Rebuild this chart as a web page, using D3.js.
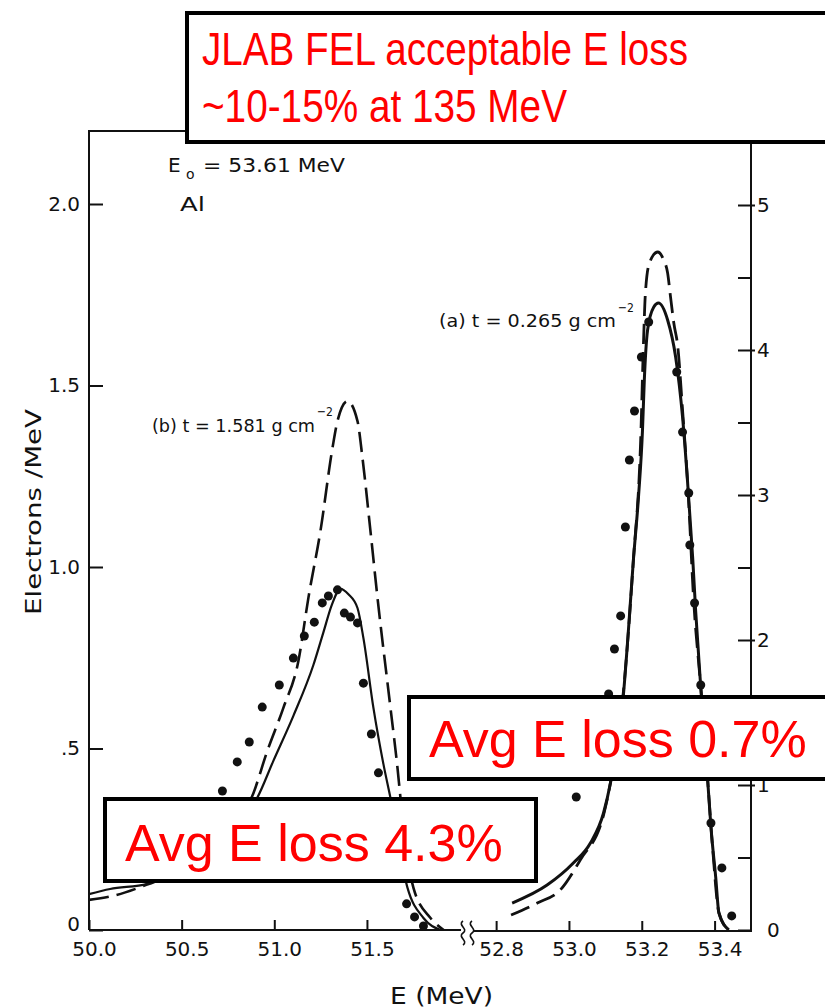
<!DOCTYPE html>
<html>
<head>
<meta charset="utf-8">
<script src="https://cdn.jsdelivr.net/npm/d3@7"></script>
<style>
  body { margin: 0; background: #fff; }
  svg { display: block; }
</style>
</head>
<body>
<div id="chart"></div>
<script>
// Tick values
var xTicksLeft = [50.0, 50.5, 51.0, 51.5];
var xTicksRight = [52.8, 53.0, 53.2, 53.4];
var yTicksLeft = [0, 0.5, 1.0, 1.5, 2.0];
var yTicksRight = [0, 0.5, 1, 1.5, 2, 2.5, 3, 3.5, 4, 4.5, 5];

// (b) t = 1.581 g cm-2  -> left axis, [E (MeV), electrons/MeV]
var dotsB = [
  [50.72, 0.383], [50.80, 0.463], [50.865, 0.518], [50.935, 0.614], [51.027, 0.675],
  [51.103, 0.749], [51.162, 0.810], [51.216, 0.848], [51.259, 0.901], [51.292, 0.920],
  [51.341, 0.937], [51.378, 0.873], [51.411, 0.862], [51.449, 0.846], [51.481, 0.680],
  [51.524, 0.540], [51.562, 0.433], [51.714, 0.072], [51.757, 0.036], [51.805, 0.011]
];
var solidB = [
  [50.00, 0.099], [50.114, 0.113], [50.314, 0.127], [50.55, 0.18], [50.75, 0.27],
  [50.908, 0.364], [50.995, 0.466], [51.103, 0.590], [51.211, 0.730], [51.265, 0.820],
  [51.31, 0.895], [51.357, 0.940], [51.40, 0.925], [51.449, 0.887], [51.481, 0.804],
  [51.535, 0.612], [51.589, 0.457], [51.627, 0.364], [51.719, 0.116], [51.805, 0.033],
  [51.897, 0.0]
];
var dashedB = [
  [50.00, 0.083], [50.13, 0.094], [50.276, 0.118], [50.5, 0.17], [50.7, 0.26],
  [50.881, 0.369], [50.962, 0.493], [51.049, 0.612], [51.130, 0.741], [51.184, 0.915],
  [51.249, 1.099], [51.314, 1.328], [51.341, 1.402], [51.395, 1.457], [51.449, 1.402],
  [51.476, 1.300], [51.519, 1.099], [51.557, 0.915], [51.627, 0.612], [51.665, 0.446],
  [51.681, 0.364], [51.751, 0.116], [51.843, 0.033], [51.914, 0.0]
];

// (a) t = 0.265 g cm-2  -> right axis
var dotsA = [
  [53.020, 0.917], [53.109, 1.628], [53.125, 1.938], [53.142, 2.166], [53.155, 2.779],
  [53.166, 3.241], [53.180, 3.579], [53.199, 3.952], [53.219, 4.193], [53.296, 3.848],
  [53.312, 3.434], [53.329, 3.014], [53.332, 2.655], [53.345, 2.255], [53.362, 1.690],
  [53.390, 0.738], [53.420, 0.428], [53.447, 0.097]
];
var solidA = [
  [52.844, 0.186], [52.940, 0.310], [53.012, 0.462], [53.059, 0.600], [53.095, 0.807],
  [53.114, 1.014], [53.150, 1.634], [53.164, 2.090], [53.177, 2.552], [53.191, 2.986],
  [53.202, 3.448], [53.207, 3.793], [53.216, 4.138], [53.233, 4.297], [53.246, 4.324],
  [53.271, 4.207], [53.293, 3.952], [53.312, 3.538], [53.326, 3.083], [53.340, 2.560],
  [53.348, 2.200], [53.362, 1.676], [53.381, 1.034], [53.390, 0.710], [53.403, 0.366],
  [53.412, 0.117], [53.439, 0.0]
];
var dashedA = [
  [52.841, 0.103], [52.913, 0.186], [52.976, 0.276], [53.031, 0.483], [53.095, 0.793],
  [53.120, 1.103], [53.150, 1.655], [53.177, 2.552], [53.197, 3.379], [53.205, 4.069],
  [53.210, 4.393], [53.221, 4.600], [53.244, 4.676], [53.260, 4.621], [53.271, 4.531],
  [53.279, 4.366], [53.288, 4.186], [53.299, 4.021], [53.312, 3.586], [53.326, 3.083],
  [53.343, 2.255], [53.362, 1.676], [53.381, 1.034], [53.395, 0.552], [53.412, 0.117],
  [53.439, 0.0]
];

var w = 825, h = 1008;
var ink = "#111";
var font = "'DejaVu Sans', sans-serif";

var svg = d3.select("#chart")
  .append("svg")
    .attr("width", w)
    .attr("height", h);

// broken x axis: two scales
var xL = d3.scaleLinear().domain([50, 52.04]).range([89, 467]);
var xR = d3.scaleLinear().domain([52.72, 53.5]).range([467, 751]);
var yL = d3.scaleLinear().domain([0, 2]).range([930, 204]);
var yR = d3.scaleLinear().domain([0, 5]).range([930, 205]);

// frame
svg.append("path")
  .attr("d", "M89,930 V131 H751 V932")
  .attr("fill", "none").attr("stroke", ink).attr("stroke-width", 2);
svg.append("path")
  .attr("d", "M89,930 H461 M473,931 H751")
  .attr("fill", "none").attr("stroke", ink).attr("stroke-width", 2);

// break marks
svg.append("path")
  .attr("d", "M463,921 c-6,4 6,8 0,12 c-6,4 6,8 0,12 M472,921 c-6,4 6,8 0,12 c-6,4 6,8 0,12")
  .attr("fill", "none").attr("stroke", ink).attr("stroke-width", 1.6);

function styleAxis(g) {
  g.select(".domain").remove();
  g.selectAll(".tick line").attr("stroke", ink).attr("stroke-width", 2);
  g.selectAll(".tick text")
    .attr("fill", ink)
    .attr("font-family", font)
    .attr("font-size", "20px");
}

// bottom axes
svg.append("g")
  .attr("transform", "translate(0,930)")
  .call(d3.axisBottom(xL).tickValues(xTicksLeft).tickSize(-10).tickPadding(12)
    .tickFormat(d3.format(".1f")))
  .call(styleAxis)
  .selectAll(".tick text").attr("dx", 5);

svg.append("g")
  .attr("transform", "translate(0,931)")
  .call(d3.axisBottom(xR).tickValues(xTicksRight).tickSize(-10).tickPadding(11)
    .tickFormat(d3.format(".1f")))
  .call(styleAxis)
  .selectAll(".tick text").attr("dx", 5);

// left axis
var gL = svg.append("g")
  .attr("transform", "translate(89,0)")
  .call(d3.axisLeft(yL).tickValues(yTicksLeft).tickSize(-14).tickPadding(9)
    .tickFormat(function(d) { return d === 0 ? "0" : d < 1 ? ".5" : d3.format(".1f")(d); }))
  .call(styleAxis);
gL.selectAll(".tick text").filter(function(d) { return d === 0; }).attr("y", -6);

// right axis
var gR = svg.append("g")
  .attr("transform", "translate(751,0)")
  .call(d3.axisRight(yR).tickValues(yTicksRight).tickSize(-13).tickPadding(6)
    .tickFormat(function(d) { return Number.isInteger(d) ? d : ""; }))
  .call(styleAxis);
gR.selectAll(".tick")
  .filter(function(d) { return Number.isInteger(d) && d > 0; })
  .append("line")
    .attr("x1", 0).attr("x2", 4)
    .attr("stroke", ink).attr("stroke-width", 2);
gR.selectAll(".tick text").filter(function(d) { return d === 0; }).attr("x", 16);

// axis titles
svg.append("text")
  .attr("transform", "translate(41,512) rotate(-90)")
  .attr("text-anchor", "middle")
  .attr("font-family", font).attr("font-size", "22px").attr("fill", ink)
  .attr("textLength", 206).attr("lengthAdjust", "spacingAndGlyphs")
  .text("Electrons /MeV");

svg.append("text")
  .attr("x", 390).attr("y", 1004)
  .attr("font-family", font).attr("font-size", "23px").attr("fill", ink)
  .attr("textLength", 103).attr("lengthAdjust", "spacingAndGlyphs")
  .text("E (MeV)");

// curves
function lineFor(x, y) {
  return d3.line()
    .x(function(d) { return x(d[0]); })
    .y(function(d) { return y(d[1]); })
    .curve(d3.curveMonotoneX);
}
var lineB = lineFor(xL, yL), lineA = lineFor(xR, yR);

svg.append("path").datum(dashedB)
  .attr("d", lineB).attr("fill", "none").attr("stroke", ink)
  .attr("stroke-width", 2.6).attr("stroke-dasharray", "20,8");
svg.append("path").datum(solidB)
  .attr("d", lineB).attr("fill", "none").attr("stroke", ink).attr("stroke-width", 2.2);
svg.append("path").datum(dashedA)
  .attr("d", lineA).attr("fill", "none").attr("stroke", ink)
  .attr("stroke-width", 2.8).attr("stroke-dasharray", "20,8");
svg.append("path").datum(solidA)
  .attr("d", lineA).attr("fill", "none").attr("stroke", ink).attr("stroke-width", 3);

// data points
svg.selectAll(".dotB")
  .data(dotsB)
  .enter()
  .append("circle")
    .attr("cx", function(d) { return xL(d[0]); })
    .attr("cy", function(d) { return yL(d[1]); })
    .attr("r", 4.5)
    .attr("fill", ink);
svg.selectAll(".dotA")
  .data(dotsA)
  .enter()
  .append("circle")
    .attr("cx", function(d) { return xR(d[0]); })
    .attr("cy", function(d) { return yR(d[1]); })
    .attr("r", 4.5)
    .attr("fill", ink);

// in-plot labels
function label(x, y, size, str, len) {
  var t = svg.append("text")
    .attr("x", x).attr("y", y)
    .attr("font-family", font).attr("font-size", size + "px").attr("fill", ink)
    .text(str);
  if (len) t.attr("textLength", len).attr("lengthAdjust", "spacingAndGlyphs");
  return t;
}
label(168, 172, 20, "E");
label(186, 179, 14, "o");
label(203, 172, 20, "= 53.61 MeV", 142);
label(180, 211, 20, "Al", 25);
label(152, 432, 18, "(b) t = 1.581 g cm", 163);
label(317, 416, 13, "−2", 16);
label(439, 327, 18, "(a) t = 0.265 g cm", 177);
label(618, 312, 13, "−2", 16);

// annotation boxes
function note(x, y, bw, bh, lines) {
  svg.append("rect")
    .attr("x", x).attr("y", y).attr("width", bw).attr("height", bh)
    .attr("fill", "#fff").attr("stroke", "#000").attr("stroke-width", 4);
  lines.forEach(function(l) {
    var t = svg.append("text")
      .attr("x", l.x).attr("y", l.y)
      .attr("font-family", "'Liberation Sans', Arial, sans-serif")
      .attr("font-size", l.size + "px")
      .attr("fill", "#ff0000")
      .text(l.text);
    if (l.len) t.attr("textLength", l.len).attr("lengthAdjust", "spacingAndGlyphs");
  });
}
note(187, 13, 680, 129, [
  {x: 202, y: 65, size: 46, text: "JLAB FEL acceptable E loss", len: 486},
  {x: 202, y: 122, size: 46, text: "~10-15% at 135 MeV", len: 365}
]);
note(409, 697, 500, 82, [
  {x: 429, y: 757, size: 52, text: "Avg E loss 0.7%"}
]);
note(105, 799, 431, 82, [
  {x: 125, y: 861, size: 52, text: "Avg E loss 4.3%"}
]);
</script>
</body>
</html>
